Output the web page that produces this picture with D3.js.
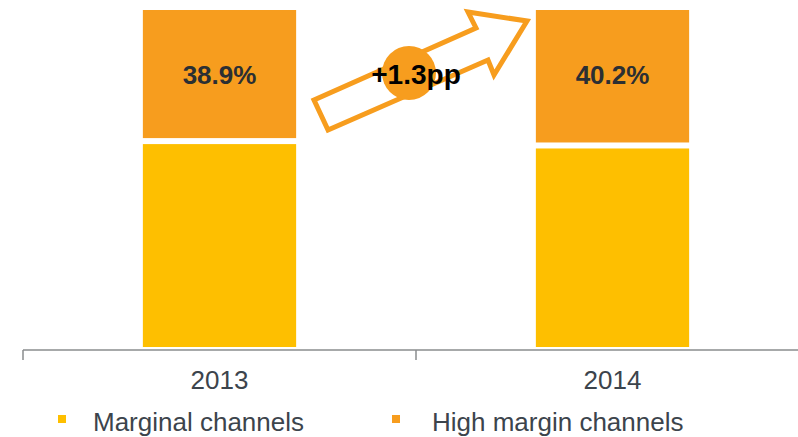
<!DOCTYPE html>
<html>
<head>
<meta charset="utf-8">
<script src="https://cdn.jsdelivr.net/npm/d3@7"></script>
<style>
  body { margin: 0; background: #fff; }
  svg { display: block; font-family: "Liberation Sans", Arial, sans-serif; }
</style>
</head>
<body>
<div id="chart"></div>
<script>
// Data
var years = ["2013", "2014"];
var marginal = [61.1, 59.8];
var highMargin = [38.9, 40.2];
var seriesNames = ["Marginal channels", "High margin channels"];
var seriesColors = ["#FEBF00", "#F79D1E"];
var changeLabel = "+1.3pp";

var svgWidth = 798;
var svgHeight = 437;

var svg = d3.select("#chart")
  .append("svg")
  .attr("width", svgWidth)
  .attr("height", svgHeight);

var table = years.map((y, i) => ({ year: y, marginal: marginal[i], high: highMargin[i] }));
var stacked = d3.stack().keys(["marginal", "high"])(table);

// Scales
var xScale = d3.scaleBand()
  .domain(years)
  .range([23, 809])
  .padding(0);
var barWidth = xScale.bandwidth() * 0.39;

var yScale = d3.scaleLinear()
  .domain([0, 100])
  .range([347, 10]);

// Bars, with a small white gap between segments
var gap = 3;
stacked.forEach((layer, li) => {
  svg.append("g")
    .selectAll("rect")
    .data(layer)
    .enter()
    .append("rect")
    .attr("x", d => xScale(d.data.year) + (xScale.bandwidth() - barWidth) / 2)
    .attr("width", barWidth)
    .attr("y", d => yScale(d[1]) + (d[1] < 100 ? gap : 0))
    .attr("height", d => (yScale(d[0]) - (d[0] > 0 ? gap : 0)) - (yScale(d[1]) + (d[1] < 100 ? gap : 0)))
    .attr("fill", seriesColors[li]);
});

// Value labels in the top segment
svg.append("g")
  .selectAll("text")
  .data(stacked[1])
  .enter()
  .append("text")
  .attr("x", d => xScale(d.data.year) + xScale.bandwidth() / 2)
  .attr("y", 84)
  .attr("text-anchor", "middle")
  .attr("font-size", "26px")
  .attr("font-weight", "bold")
  .attr("fill", "#2b2f33")
  .text(d => d.data.high.toFixed(1) + "%");

// Axis
var axisY = 350;
var axis = svg.append("g").attr("stroke", "#8a8c8e").attr("stroke-width", 1.5);
axis.append("line")
  .attr("x1", 23).attr("x2", svgWidth)
  .attr("y1", axisY).attr("y2", axisY);
axis.selectAll(".tick")
  .data(years.map(y => xScale(y)).concat([xScale.range()[1]]))
  .enter()
  .append("line")
  .attr("x1", d => d).attr("x2", d => d)
  .attr("y1", axisY).attr("y2", axisY + 10);

svg.append("g")
  .selectAll("text")
  .data(years)
  .enter()
  .append("text")
  .attr("x", d => xScale(d) + xScale.bandwidth() / 2)
  .attr("y", 389)
  .attr("text-anchor", "middle")
  .attr("font-size", "26px")
  .attr("fill", "#3c444c")
  .text(d => d);

// Change arrow (hollow) with circle badge
var arrowPts = [[328, 130], [314, 100], [476, 28], [468, 12], [527, 21], [494, 75], [488, 60]];
svg.append("path")
  .attr("d", d3.line()(arrowPts) + "Z")
  .attr("fill", "#fff")
  .attr("stroke", "#F79D1E")
  .attr("stroke-width", 5)
  .attr("stroke-linejoin", "miter");

svg.append("circle")
  .attr("cx", 409)
  .attr("cy", 73)
  .attr("r", 27)
  .attr("fill", "#F79D1E");

svg.append("text")
  .attr("x", 416)
  .attr("y", 84)
  .attr("text-anchor", "middle")
  .attr("font-size", "28px")
  .attr("font-weight", "bold")
  .attr("fill", "#000")
  .text(changeLabel);

// Legend
var legendX = [58, 392];
var legend = svg.append("g")
  .selectAll("g")
  .data(seriesNames)
  .enter()
  .append("g")
  .attr("transform", (d, i) => `translate(${legendX[i]}, 0)`);
legend.append("rect")
  .attr("x", 0).attr("y", 415)
  .attr("width", 8).attr("height", 8)
  .attr("fill", (d, i) => seriesColors[i]);
legend.append("text")
  .attr("x", (d, i) => i === 0 ? 35 : 40)
  .attr("y", 431)
  .attr("font-size", "26px")
  .attr("fill", "#3c444c")
  .text(d => d);
</script>
</body>
</html>
